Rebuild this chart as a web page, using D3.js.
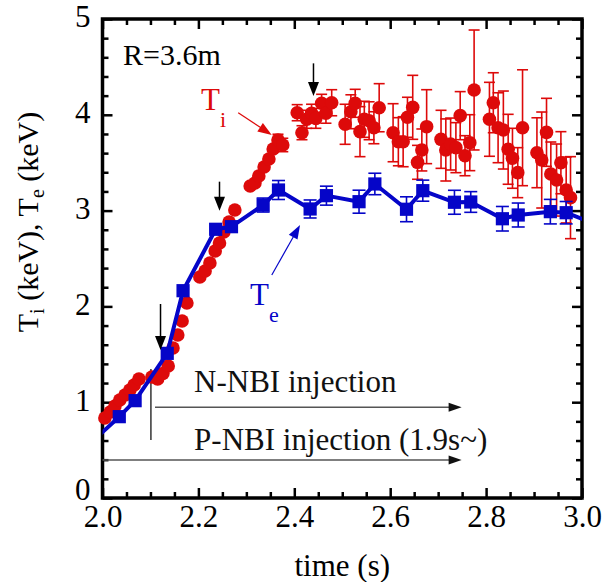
<!DOCTYPE html>
<html>
<head>
<meta charset="utf-8">
<script src="https://cdn.jsdelivr.net/npm/d3@7"></script>
<style>
  body { margin: 0; background: #fff; }
  text { font-family: "Liberation Serif", "Times New Roman", serif; }
</style>
</head>
<body>
<div id="chart"></div>
<script>
// Ion temperature (keV) vs time (s), with error bars
var tiTime = [2.005, 2.016, 2.026, 2.036, 2.047, 2.057, 2.066, 2.076,
              2.103, 2.115, 2.126, 2.137, 2.147, 2.157, 2.166, 2.176,
              2.203, 2.214, 2.224, 2.235, 2.244, 2.253, 2.264, 2.276,
              2.308, 2.318, 2.326, 2.337, 2.347, 2.356, 2.366, 2.376,
              2.406, 2.416, 2.426, 2.436, 2.445, 2.457, 2.466, 2.478,
              2.506, 2.518, 2.527, 2.537, 2.546, 2.556, 2.566, 2.577,
              2.606, 2.617, 2.627, 2.636, 2.647, 2.657, 2.666, 2.676,
              2.706, 2.716, 2.726, 2.737, 2.746, 2.756, 2.766, 2.775,
              2.807, 2.815, 2.825, 2.836, 2.846, 2.855, 2.866, 2.876,
              2.906, 2.916, 2.926, 2.935, 2.947, 2.956, 2.967, 2.976];
var tiVal = [0.835, 0.898, 0.960, 1.023, 1.075, 1.127, 1.180, 1.242,
             1.263, 1.242, 1.300, 1.378, 1.566, 1.701, 1.848, 2.035,
             2.307, 2.370, 2.453, 2.578, 2.662, 2.777, 2.881, 3.006,
             3.257, 3.288, 3.361, 3.455, 3.539, 3.643, 3.737, 3.685,
             4.022, 3.813, 3.953, 4.016, 3.963, 4.120, 4.016, 4.126,
             3.901, 4.032, 4.120, 3.824, 3.953, 3.938, 3.865, 4.074,
             3.813, 3.719, 3.719, 3.974, 4.078, 3.504, 3.633, 3.876,
             3.744, 3.633, 3.695, 3.657, 3.991, 3.573, 3.709, 4.259,
             3.953, 4.126, 3.865, 3.841, 3.640, 3.546, 3.396, 3.865,
             3.604, 3.528, 3.817, 3.382, 3.319, 3.500, 3.215, 3.135];
var tiErr = [0, 0, 0, 0, 0, 0, 0, 0,
             0, 0, 0, 0, 0, 0, 0, 0,
             0, 0, 0, 0, 0, 0, 0, 0,
             0, 0, 0, 0, 0, 0, 0.06, 0.07,
             0.084, 0.073, 0.094, 0.094, 0.104, 0.094, 0.104, 0.136,
             0.209, 0.177, 0.146, 0.261, 0.188, 0.198, 0.167, 0.251,
             0.303, 0.251, 0.261, 0.209, 0.334, 0.177, 0.219, 0.386,
             0.303, 0.324, 0.271, 0.261, 0.251, 0.209, 0.292, 0.626,
             0.386, 0.313, 0.365, 0.407, 0.365, 0.313, 0.261, 0.605,
             0.365, 0.501, 0.355, 0.334, 0.376, 0.324, 0.344, 0.428];

// Electron temperature (keV) vs time (s); first/last points lie outside the window
var teTime = [1.967, 2.035, 2.068, 2.135, 2.168, 2.236, 2.269, 2.335, 2.367, 2.433, 2.467,
              2.535, 2.568, 2.634, 2.668, 2.734, 2.768, 2.834, 2.867, 2.934, 2.967, 3.033];
var teVal = [0.535, 0.849, 1.016, 1.510, 2.164, 2.805, 2.832, 3.058, 3.215, 3.017, 3.156,
             3.093, 3.278, 3.014, 3.208, 3.087, 3.090, 2.915, 2.954, 2.989, 2.978, 2.851];
var teErr = [0, 0.03, 0.03, 0.03, 0.03, 0.04, 0.04, 0.073, 0.099, 0.094, 0.099,
             0.12, 0.112, 0.13, 0.11, 0.125, 0.108, 0.128, 0.125, 0.128, 0.117, 0];

var xTicks = [2.0, 2.2, 2.4, 2.6, 2.8, 3.0];
var yTicks = [0, 1, 2, 3, 4, 5];

// timing markers (down arrows): time, tail value, tip value
var markTime = [2.121, 2.244, 2.440];
var markTail = [2.025, 3.302, 4.537];
var markTip = [1.545, 2.999, 4.196];

// beam injection arrows
var nbiLabel = ["N-NBI injection", "P-NBI injection (1.9s~)"];
var nbiStart = [2.1095, 2.0];
var nbiEnd = [2.749, 2.749];
var nbiLevel = [0.947, 0.397];
var nbiTextT = [2.191, 2.191];
var nbiTextV = [1.106, 0.501];

var width = 604;
var height = 582;
var pLeft = 102.5, pRight = 582, pTop = 19, pBottom = 498;
var red = '#dd0a0a';
var blue = '#0505c8';

var x = d3.scaleLinear().domain([2, 3]).range([pLeft, pRight]);
var y = d3.scaleLinear().domain([0, 5]).range([pBottom, pTop]);

var svg = d3.select('#chart')
  .append('svg')
  .attr('width', width)
  .attr('height', height);

svg.append('clipPath').attr('id', 'plot')
  .append('rect')
  .attr('x', pLeft).attr('y', pTop)
  .attr('width', pRight - pLeft).attr('height', pBottom - pTop);

// axes, ticks pointing inward
var xMinor = d3.range(2.05, 3, 0.05).filter(function (d) { return Math.abs(d * 5 - Math.round(d * 5)) > 0.01; });
var yMinor = d3.range(0.2, 5, 0.2).filter(function (d) { return Math.abs(d - Math.round(d)) > 0.01; });

function styleAxis(g) {
  g.select('.domain').remove();
  g.selectAll('line').attr('stroke', '#000').attr('stroke-width', 2.5);
  g.selectAll('text').attr('font-size', 31).attr('fill', '#000')
    .style('font-family', '"Liberation Serif", "Times New Roman", serif');
}

svg.append('g').attr('transform', 'translate(0,' + pBottom + ')')
  .call(d3.axisBottom(x).tickValues(xTicks).tickSize(-10).tickPadding(7).tickFormat(d3.format('.1f')))
  .call(styleAxis);
svg.append('g').attr('transform', 'translate(0,' + pBottom + ')')
  .call(d3.axisBottom(x).tickValues(xMinor).tickSize(-6).tickFormat(''))
  .call(styleAxis);
svg.append('g').attr('transform', 'translate(0,' + pTop + ')')
  .call(d3.axisTop(x).tickValues(xTicks).tickSize(-10).tickFormat(''))
  .call(styleAxis);
svg.append('g').attr('transform', 'translate(0,' + pTop + ')')
  .call(d3.axisTop(x).tickValues(xMinor).tickSize(-6).tickFormat(''))
  .call(styleAxis);
svg.append('g').attr('transform', 'translate(' + pLeft + ',0)')
  .call(d3.axisLeft(y).tickValues(yTicks).tickSize(-10).tickPadding(12).tickFormat(d3.format('d')))
  .call(styleAxis)
  .selectAll('.tick text')
  .attr('y', function (d) { return d === 0 ? -8 : -2; });
svg.append('g').attr('transform', 'translate(' + pLeft + ',0)')
  .call(d3.axisLeft(y).tickValues(yMinor).tickSize(-6).tickFormat(''))
  .call(styleAxis);
svg.append('g').attr('transform', 'translate(' + pRight + ',0)')
  .call(d3.axisRight(y).tickValues(yTicks).tickSize(-10).tickFormat(''))
  .call(styleAxis);
svg.append('g').attr('transform', 'translate(' + pRight + ',0)')
  .call(d3.axisRight(y).tickValues(yMinor).tickSize(-6).tickFormat(''))
  .call(styleAxis);

svg.append('rect')
  .attr('x', pLeft).attr('y', pTop)
  .attr('width', pRight - pLeft).attr('height', pBottom - pTop)
  .attr('fill', 'none').attr('stroke', '#000').attr('stroke-width', 3.5);

// axis titles
svg.append('text')
  .attr('x', (pLeft + pRight) / 2).attr('y', 576)
  .attr('text-anchor', 'middle').attr('font-size', 31)
  .text('time (s)');

var ylab = svg.append('text')
  .attr('transform', 'translate(38,222) rotate(-90)')
  .attr('text-anchor', 'middle').attr('font-size', 30);
ylab.append('tspan').text('T');
ylab.append('tspan').attr('font-size', 20).attr('dy', 6).text('i');
ylab.append('tspan').attr('dy', -6).text(' (keV), T');
ylab.append('tspan').attr('font-size', 20).attr('dy', 6).text('e');
ylab.append('tspan').attr('dy', -6).text(' (keV)');

// arrow helper (line + filled head)
function arrow(x1, y1, x2, y2, len, half, lineColor, headColor, lw) {
  var dx = x2 - x1, dy = y2 - y1, d = Math.sqrt(dx * dx + dy * dy);
  var ux = dx / d, uy = dy / d;
  var bx = x2 - ux * len, by = y2 - uy * len;
  svg.append('line')
    .attr('x1', x1).attr('y1', y1).attr('x2', bx + ux * 1).attr('y2', by + uy * 1)
    .attr('stroke', lineColor).attr('stroke-width', lw);
  svg.append('polygon')
    .attr('points', [[x2, y2], [bx - uy * half, by + ux * half], [bx + uy * half, by - ux * half]].join(' '))
    .attr('fill', headColor);
}

// NBI injection arrows and labels
nbiLabel.forEach(function (lab, i) {
  arrow(x(nbiStart[i]), y(nbiLevel[i]), x(nbiEnd[i]), y(nbiLevel[i]), 13, 4.5, '#555', '#111', 1.5);
  svg.append('text')
    .attr('x', x(nbiTextT[i])).attr('y', y(nbiTextV[i]))
    .attr('font-size', 31).attr('fill', '#111')
    .text(lab);
});

// thin vertical marker at NBI start
svg.append('line')
  .attr('x1', x(2.101)).attr('x2', x(2.101))
  .attr('y1', y(1.347)).attr('y2', y(0.605))
  .attr('stroke', '#000').attr('stroke-width', 1.2);

// Ti error bars
var tiData = tiTime.map(function (t, i) { return { t: t, v: tiVal[i], e: tiErr[i] }; });
var tiBars = svg.append('g').attr('stroke', red).attr('stroke-width', 1.6);
tiData.filter(function (d) { return d.e > 0; }).forEach(function (d) {
  var cx = x(d.t);
  tiBars.append('line').attr('x1', cx).attr('x2', cx).attr('y1', y(d.v - d.e)).attr('y2', y(d.v + d.e));
  tiBars.append('line').attr('x1', cx - 5.5).attr('x2', cx + 5.5).attr('y1', y(d.v - d.e)).attr('y2', y(d.v - d.e));
  tiBars.append('line').attr('x1', cx - 5.5).attr('x2', cx + 5.5).attr('y1', y(d.v + d.e)).attr('y2', y(d.v + d.e));
});

// Ti circles
svg.append('g').selectAll('circle')
  .data(tiData)
  .enter()
  .append('circle')
  .attr('cx', function (d) { return x(d.t); })
  .attr('cy', function (d) { return y(d.v); })
  .attr('r', 6.8)
  .attr('fill', red);

// Te line
var teData = teTime.map(function (t, i) { return { t: t, v: teVal[i], e: teErr[i] }; });
svg.append('path')
  .datum(teData)
  .attr('clip-path', 'url(#plot)')
  .attr('d', d3.line().x(function (d) { return x(d.t); }).y(function (d) { return y(d.v); }))
  .attr('fill', 'none').attr('stroke', blue).attr('stroke-width', 4)
  .attr('stroke-linejoin', 'round');

var teIn = teData.filter(function (d) { return d.t >= 2 && d.t <= 3; });
var teBars = svg.append('g').attr('stroke', blue).attr('stroke-width', 1.6);
teIn.filter(function (d) { return d.e > 0.06; }).forEach(function (d) {
  var cx = x(d.t);
  teBars.append('line').attr('x1', cx).attr('x2', cx).attr('y1', y(d.v - d.e)).attr('y2', y(d.v + d.e));
  teBars.append('line').attr('x1', cx - 6.5).attr('x2', cx + 6.5).attr('y1', y(d.v - d.e)).attr('y2', y(d.v - d.e));
  teBars.append('line').attr('x1', cx - 6.5).attr('x2', cx + 6.5).attr('y1', y(d.v + d.e)).attr('y2', y(d.v + d.e));
});

svg.append('g').selectAll('rect')
  .data(teIn)
  .enter()
  .append('rect')
  .attr('x', function (d) { return x(d.t) - 6.6; })
  .attr('y', function (d) { return y(d.v) - 6.6; })
  .attr('width', 13.2).attr('height', 13.2)
  .attr('fill', blue);

// timing markers
markTime.forEach(function (t, i) {
  arrow(x(t), y(markTail[i]), x(t), y(markTip[i]), 14, 5.5, '#000', '#000', 1.5);
});

// labels
svg.append('text')
  .attr('x', x(2.0428)).attr('y', y(4.52))
  .attr('font-size', 30).text('R=3.6m');

var tiLab = svg.append('text').attr('x', x(2.2054)).attr('y', y(4.05))
  .attr('font-size', 31).attr('fill', red);
tiLab.append('tspan').text('T');
tiLab.append('tspan').attr('font-size', 22).attr('dy', 17).text('i');
arrow(x(2.283), y(4.022), x(2.353), y(3.789), 14, 5, red, red, 1.2);

var teLab = svg.append('text').attr('x', x(2.3076)).attr('y', y(2.015))
  .attr('font-size', 31).attr('fill', blue);
teLab.append('tspan').text('T');
teLab.append('tspan').attr('font-size', 22).attr('dy', 17).text('e');
arrow(x(2.353), y(2.328), x(2.412), y(2.85), 14, 5, blue, blue, 1.2);
</script>
</body>
</html>
